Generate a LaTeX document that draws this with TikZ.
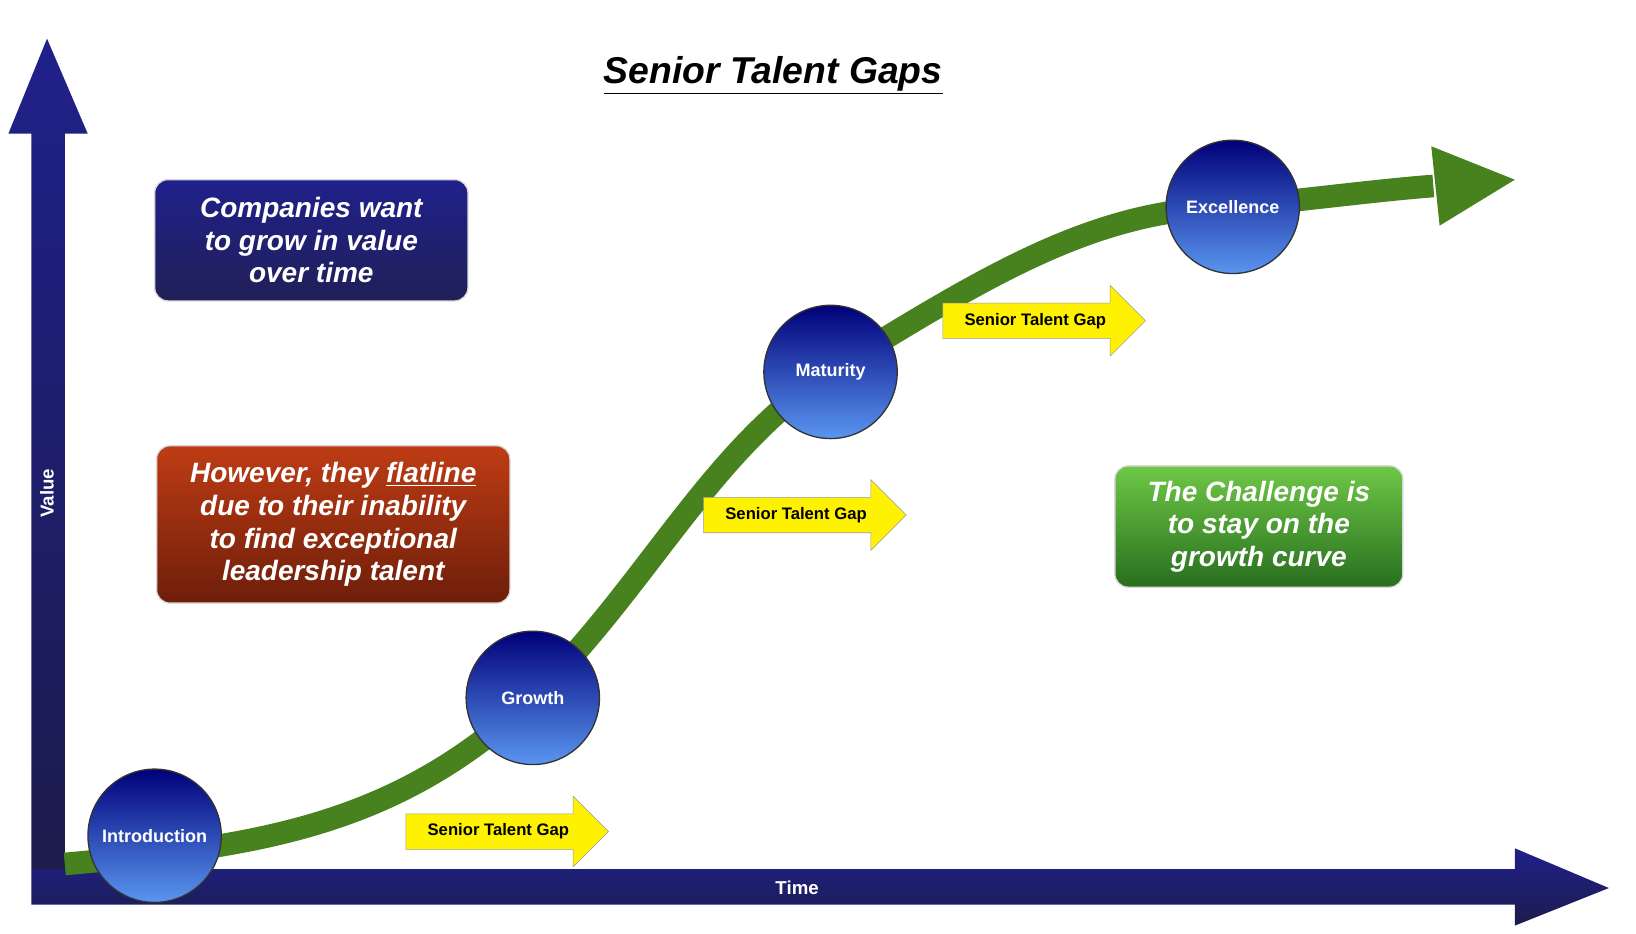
\documentclass[tikz,border=0pt]{standalone}
\usepackage{fontspec}
\setmainfont{Liberation Sans}
\usetikzlibrary{shapes.arrows}
\definecolor{navy}{RGB}{40,40,110}
\definecolor{curveg}{RGB}{72,130,30}
\begin{document}
\begin{tikzpicture}[x=0.7835pt,y=-0.7835pt,
  ball/.style={circle,minimum size=128\pgflinewidth,draw=black!80,line width=1pt,inner sep=0pt,minimum size=100pt,top color=blue!25!black!70!blue,bottom color={rgb,255:red,90;green,150;blue,240},text=white,font=\bfseries\fontsize{13.5}{15}\selectfont},
  gap/.style={single arrow,fill=yellow,draw=black!40,minimum height=152pt,minimum width=53pt,single arrow head extend=8pt,inner sep=2pt,font=\bfseries\fontsize{12.5}{14}\selectfont,anchor=center},
  msg/.style={rounded corners=10pt,text=white,align=center,font=\bfseries\itshape\fontsize{21}{24.5}\selectfont,draw=white!70!gray,line width=1pt}]
\useasboundingbox (0,0) rectangle (1566,894);
% axes
\shade[top color=navy!80!blue,bottom color=navy!70!black] (30,128) -- (8,128) -- (45,37) -- (84,128) -- (62,128) -- (62,832) -- (30,832) -- cycle;
\shade[top color=navy!80!blue,bottom color=navy!70!black] (30,832) -- (1450,832) -- (1450,812) -- (1540,850) -- (1450,886) -- (1450,866) -- (30,866) -- cycle;
\node[text=white,font=\bfseries\fontsize{14}{16}\selectfont] (time) at (763,850) {Time};
\node[text=white,rotate=90,font=\bfseries\fontsize{14}{16}\selectfont] (value) at (45,472) {Value};
% title
\node[font=\bfseries\itshape\fontsize{28}{32}\selectfont] (title) at (740,72) {\underline{Senior Talent Gaps}};
% curve
\coordinate (start) at (62,827);
\coordinate (ahead) at (1372,178);
\draw[curveg,line width=17pt] (start) .. controls (250,810) and (380,790) .. (510,668)
  .. controls (620,560) and (680,430) .. (795,356)
  .. controls (950,260) and (1050,200) .. (1180,198)
  .. controls (1260,190) and (1320,182) .. (ahead);
\fill[curveg] (1370,140) -- (1450,172) -- (1378,216) -- cycle;
% balls
\node[ball] (intro) at (148,800) {Introduction};
\node[ball] (growth) at (510,668) {Growth};
\node[ball] (mat) at (795,356) {Maturity};
\node[ball] (exc) at (1180,198) {Excellence};
% gaps
\node[gap] (g1) at (477,796) {Senior Talent Gap};
\node[gap] (g2) at (762,493) {Senior Talent Gap};
\node[gap] (g3) at (991,307) {Senior Talent Gap};
% messages
\node[msg,top color=navy!80!blue,bottom color=navy!80!black,minimum width=235pt,minimum height=91pt] (m1) at (298,230) {Companies want\\to grow in value\\over time};
\node[msg,top color={rgb,255:red,190;green,60;blue,20},bottom color={rgb,255:red,110;green,30;blue,10},minimum width=265pt,minimum height=118pt] (m2) at (319,502) {However, they \underline{flatline}\\due to their inability\\to find exceptional\\leadership talent};
\node[msg,top color={rgb,255:red,110;green,200;blue,70},bottom color={rgb,255:red,40;green,110;blue,30},minimum width=216pt,minimum height=91pt] (m3) at (1205,504) {The Challenge is\\to stay on the\\growth curve};
\end{tikzpicture}
\end{document}
